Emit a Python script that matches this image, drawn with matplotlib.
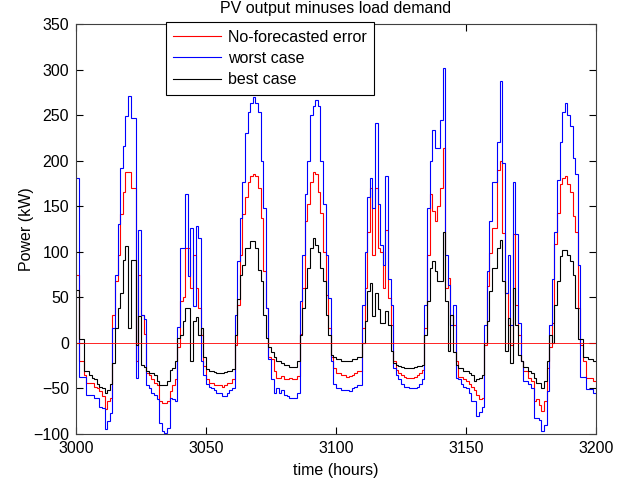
import numpy as np
import matplotlib
matplotlib.use('Agg')
import matplotlib.pyplot as plt

plt.rcParams['font.family'] = ['Liberation Sans', 'DejaVu Sans']

# hourly step edges 3000..3200
edges = np.arange(3000, 3201)

# power values, one per hour (kW)
no_forecast_err = [
    75, -20, -20, -35, -44, -44, -44, -48, -50, -53, -58, -73, -64, -60, 31, 68, 97, 141, 166, 188, 188, 170, 170, -20,
    75, 31, 10, -33, -35, -40, -44, -46, -64, -66, -66, -64, -53, -46, -40, -5, 46, 50, 104, 104, 60, 97, 60, 38,
    9, -25, -40, -44, -44, -46, -46, -46, -48, -46, -44, -44, -40, -2, 42, 97, 141, 160, 177, 183, 185, 183, 170, 137,
    79, 38, -16, -18, -31, -38, -38, -36, -40, -40, -38, -40, -40, -36, 10, 60, 134, 152, 177, 188, 185, 166, 143, 100,
    53, 16, -16, -27, -33, -33, -35, -35, -37, -36, -35, -33, -31, -31, 16, 60, 122, 170, 97, 170, 104, 100, 60, 124,
    49, 20, -20, -30, -33, -35, -37, -38, -38, -38, -37, -35, -33, -30, 16, 97, 163, 145, 134, 150, 170, 214, 60, 71,
    31, 20, -20, -37, -37, -40, -42, -45, -48, -52, -57, -62, -60, -2, 62, 99, 126, 126, 190, 200, 121, 55, 20, -2,
    119, 42, 9, -20, -31, -31, -38, -42, -64, -62, -68, -75, -64, -27, -5, 22, 109, 143, 174, 181, 183, 174, 166, 139,
    122, 38, -2, -20, -38, -38, -38, -42,
]
worst_case = [
    181, -37, -37, -37, -57, -57, -57, -60, -60, -70, -72, -95, -86, -77, 16, 75, 130, 192, 216, 249, 271, 247, 247, -38,
    124, 31, 26, -46, -50, -55, -57, -62, -88, -97, -99, -93, -60, -62, -64, 18, 104, 104, 163, 73, 126, 40, 128, 115,
    -20, -35, -45, -48, -50, -52, -55, -55, -58, -58, -55, -52, -50, 31, 90, 137, 177, 230, 254, 263, 270, 263, 254, 200,
    148, 38, -18, -40, -55, -50, -55, -52, -57, -58, -60, -60, -60, -55, 46, 97, 163, 200, 250, 260, 267, 260, 200, 152,
    97, 49, -20, -45, -50, -50, -52, -52, -52, -53, -50, -48, -46, -46, 42, 100, 160, 181, 148, 241, 152, 108, 86, 183,
    70, 42, -27, -35, -40, -45, -48, -48, -50, -50, -50, -48, -45, -40, 42, 148, 200, 234, 214, 214, 245, 302, 97, 64,
    20, 42, -38, -40, -45, -48, -50, -55, -64, -64, -80, -76, -70, 20, 79, 134, 177, 177, 221, 287, 198, 55, 97, 20,
    177, 119, 22, -20, -42, -42, -45, -50, -82, -82, -85, -97, -90, -53, 20, 70, 122, 179, 220, 254, 263, 250, 238, 203,
    185, 86, -37, -37, -51, -51, -51, -55,
]
best_case = [
    58, 4, 4, -31, -31, -35, -38, -40, -45, -48, -50, -55, -52, -45, -22, 16, 38, 55, 91, 106, 16, 91, 91, -2,
    29, -24, -26, -31, -33, -33, -35, -42, -46, -46, -46, -42, -30, -27, -20, 5, 9, 24, 38, 38, -20, 24, 28, 9,
    16, -15, -29, -31, -31, -32, -33, -33, -33, -32, -31, -31, -29, 9, 48, 75, 86, 104, 104, 112, 112, 104, 80, 68,
    31, 5, -5, -10, -16, -20, -20, -22, -24, -24, -26, -26, -26, -20, 9, 38, 60, 82, 104, 115, 108, 100, 82, 68,
    31, 9, -13, -16, -18, -18, -20, -20, -20, -20, -18, -18, -16, -16, 0, 24, 57, 66, 30, 55, 37, 22, 22, 35,
    20, -9, -22, -24, -25, -26, -27, -27, -27, -27, -26, -25, -25, -24, 9, 46, 82, 90, 79, 68, 68, 122, 46, -9,
    31, -10, -24, -27, -27, -31, -31, -33, -35, -42, -40, -38, -35, 0, 24, 57, 82, 82, 104, 113, 68, -9, 27, -22,
    60, 20, -13, -20, -26, -26, -31, -33, -38, -44, -44, -50, -42, -20, 9, 0, 42, 68, 95, 102, 102, 97, 90, 75,
    38, 4, 4, -16, -16, -18, -18, -20,
]

labels = ['No-forecasted error', 'worst case', 'best case']
x_ticks = [3000, 3050, 3100, 3150, 3200]
y_ticks = list(range(-100, 351, 50))

fs = 11.5

fig = plt.figure(figsize=(6.38, 4.84), dpi=100)
ax = fig.add_axes([0.1191, 0.1033, 0.815, 0.847])

ax.stairs(no_forecast_err, edges, baseline=None, color='r', lw=0.8, label=labels[0])
ax.stairs(worst_case, edges, baseline=None, color='b', lw=0.8, label=labels[1])
ax.stairs(best_case, edges, baseline=None, color='k', lw=0.8, label=labels[2])
ax.axhline(0, color='r', lw=0.6)

ax.set_xlim(3000, 3200)
ax.set_ylim(-100, 350)
ax.set_xticks(x_ticks)
ax.set_yticks(y_ticks)
ax.tick_params(direction='in', top=True, right=True, labelsize=fs, length=5, width=0.8, pad=5)
for s in ax.spines.values():
    s.set_linewidth(0.8)
    s.set_color('#404040')

ax.set_xlabel('time (hours)', fontsize=fs, labelpad=5)
ax.set_ylabel('Power (kW)', fontsize=fs, labelpad=-1)
ax.set_title('PV output minuses load demand', fontsize=fs, pad=8)

leg = ax.legend(loc='upper left', bbox_to_anchor=(0.173, 1.004), borderaxespad=0,
                fancybox=False, framealpha=1, edgecolor='k', fontsize=fs,
                handlelength=3.0, handletextpad=0.45, labelspacing=0.4, borderpad=0.45)
leg.get_frame().set_linewidth(0.8)

fig.savefig('out.png', dpi=100)
